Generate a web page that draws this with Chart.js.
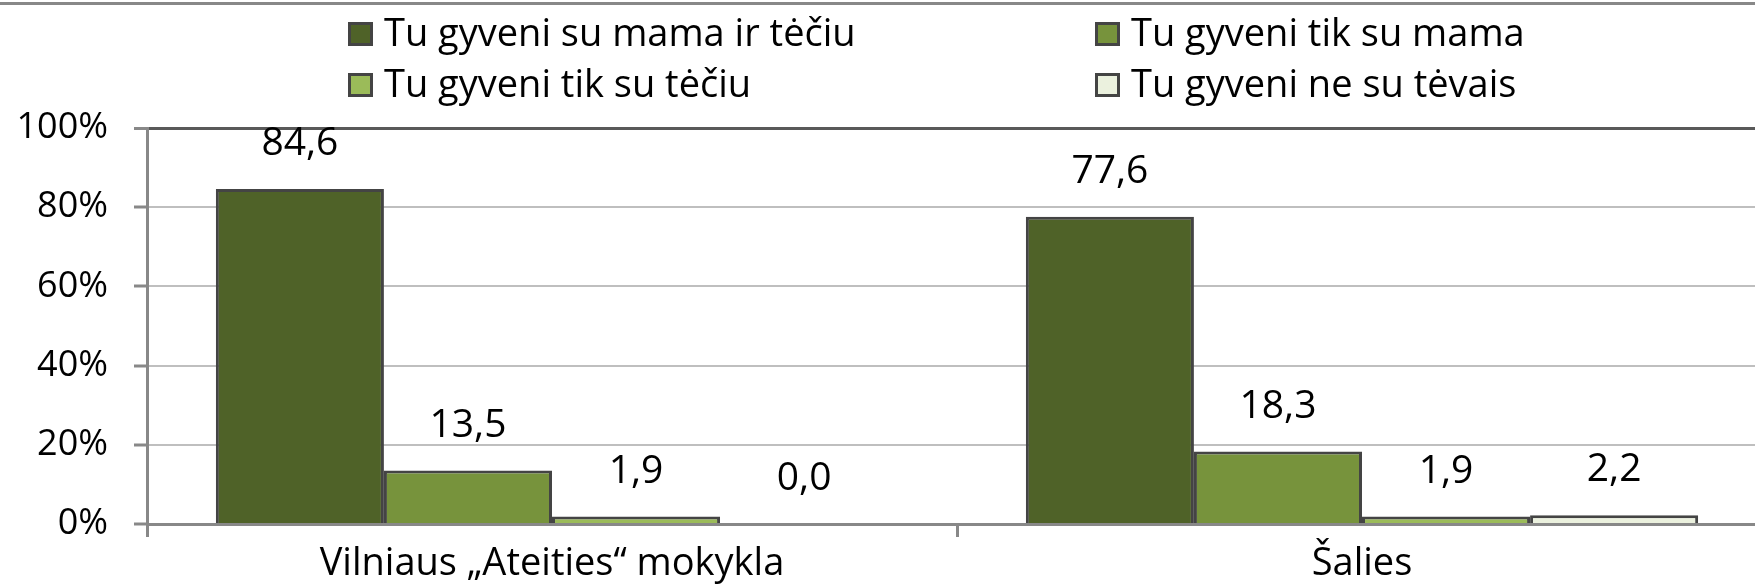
<!DOCTYPE html>
<html lang="lt">
<head>
  <meta charset="UTF-8">
  <title>Su kuo gyveni</title>
  <style>
    html, body { margin: 0; padding: 0; background: #fff; overflow: hidden; }
    #wrap { position: relative; width: 1774px; height: 586px; }
  </style>
</head>
<body>
  <div id="wrap"><canvas id="myChart"></canvas></div>

  <script src="https://cdn.jsdelivr.net/npm/chart.js"></script>
  <script>
    // data
    const categories = ['Vilniaus „Ateities“ mokykla', 'Šalies'];
    const seriesNames = ['Tu gyveni su mama ir tėčiu', 'Tu gyveni tik su mama', 'Tu gyveni tik su tėčiu', 'Tu gyveni ne su tėvais'];
    const suMamaIrTeciu = [84.6, 77.6];
    const tikSuMama = [13.5, 18.3];
    const tikSuTeciu = [1.9, 1.9];
    const neSuTevais = [0.0, 2.2];
    const yTicks = [0, 20, 40, 60, 80, 100];

    const colors = ['#4f6228', '#77933c', '#9bbb59', '#ebf1de'];
    const font = '"Open Sans", Lato, sans-serif';

    // top outline + white background
    const frame = {
      id: 'frame',
      beforeDraw(chart) {
        const c = chart.ctx;
        c.save();
        c.fillStyle = '#fff';
        c.fillRect(0, 0, chart.width, chart.height);
        c.fillStyle = '#888';
        c.fillRect(0, 2, chart.width, 3);
        c.restore();
      }
    };

    // two column legend like the original
    const gridLegend = {
      id: 'gridLegend',
      afterDraw(chart) {
        const c = chart.ctx;
        const cols = [348, 1095];
        const rows = [34, 85];
        c.save();
        c.font = '38px ' + font;
        c.textBaseline = 'middle';
        chart.data.datasets.forEach((ds, i) => {
          const x = cols[i % 2], y = rows[Math.floor(i / 2)];
          c.fillStyle = '#444';
          c.fillRect(x, y - 12, 25, 24);
          c.fillStyle = ds.backgroundColor;
          c.fillRect(x + 3, y - 9, 19, 18);
          c.fillStyle = '#000';
          c.fillText(ds.label, x + 36, y + 1);
        });
        c.restore();
      }
    };

    const valueLabels = {
      id: 'valueLabels',
      afterDatasetsDraw(chart) {
        const c = chart.ctx;
        c.save();
        c.font = '39px ' + font;
        c.fillStyle = '#000';
        c.textAlign = 'center';
        c.textBaseline = 'middle';
        chart.data.datasets.forEach((ds, i) => {
          chart.getDatasetMeta(i).data.forEach((bar, j) => {
            c.fillText(ds.data[j].toFixed(1).replace('.', ','), bar.x, bar.y - 45);
          });
        });
        c.restore();
      }
    };

    const seriesData = [suMamaIrTeciu, tikSuMama, tikSuTeciu, neSuTevais];

    new Chart(document.getElementById('myChart'), {
      type: 'bar',
      data: {
        labels: categories,
        datasets: seriesNames.map((name, i) => ({
          label: name,
          data: seriesData[i],
          backgroundColor: colors[i],
          borderColor: '#444',
          borderWidth: 3,
          categoryPercentage: 0.83,
          barPercentage: 1
        }))
      },
      options: {
        responsive: true,
        maintainAspectRatio: false,
        animation: false,
        layout: { padding: { top: 128, right: 7, left: 0, bottom: 0 } },
        plugins: {
          legend: { display: false },
          tooltip: { enabled: false }
        },
        scales: {
          x: {
            grid: { display: true, drawOnChartArea: false, color: '#888', lineWidth: 3, tickLength: 13, tickWidth: 3 },
            border: { color: '#888', width: 3 },
            ticks: { color: '#000', font: { family: font, size: 38 }, padding: 4 },
            afterFit(scale) { scale.height = 62; }
          },
          y: {
            min: 0,
            max: 100,
            afterBuildTicks(scale) { scale.ticks = yTicks.map(v => ({ value: v })); },
            grid: {
              color: ctx => ctx.tick && ctx.tick.value === 100 ? '#595959' : '#bfbfbf',
              lineWidth: ctx => ctx.tick && ctx.tick.value === 100 ? 3 : 2,
              tickColor: '#888',
              tickLength: 13,
              tickWidth: 3
            },
            border: { color: '#888', width: 3 },
            ticks: {
              color: '#000',
              font: { family: font, size: 36 },
              padding: 26,
              callback: v => v + '%'
            },
            afterFit(scale) { scale.width = 147; }
          }
        }
      },
      plugins: [frame, gridLegend, valueLabels]
    });
  </script>
</body>
</html>
